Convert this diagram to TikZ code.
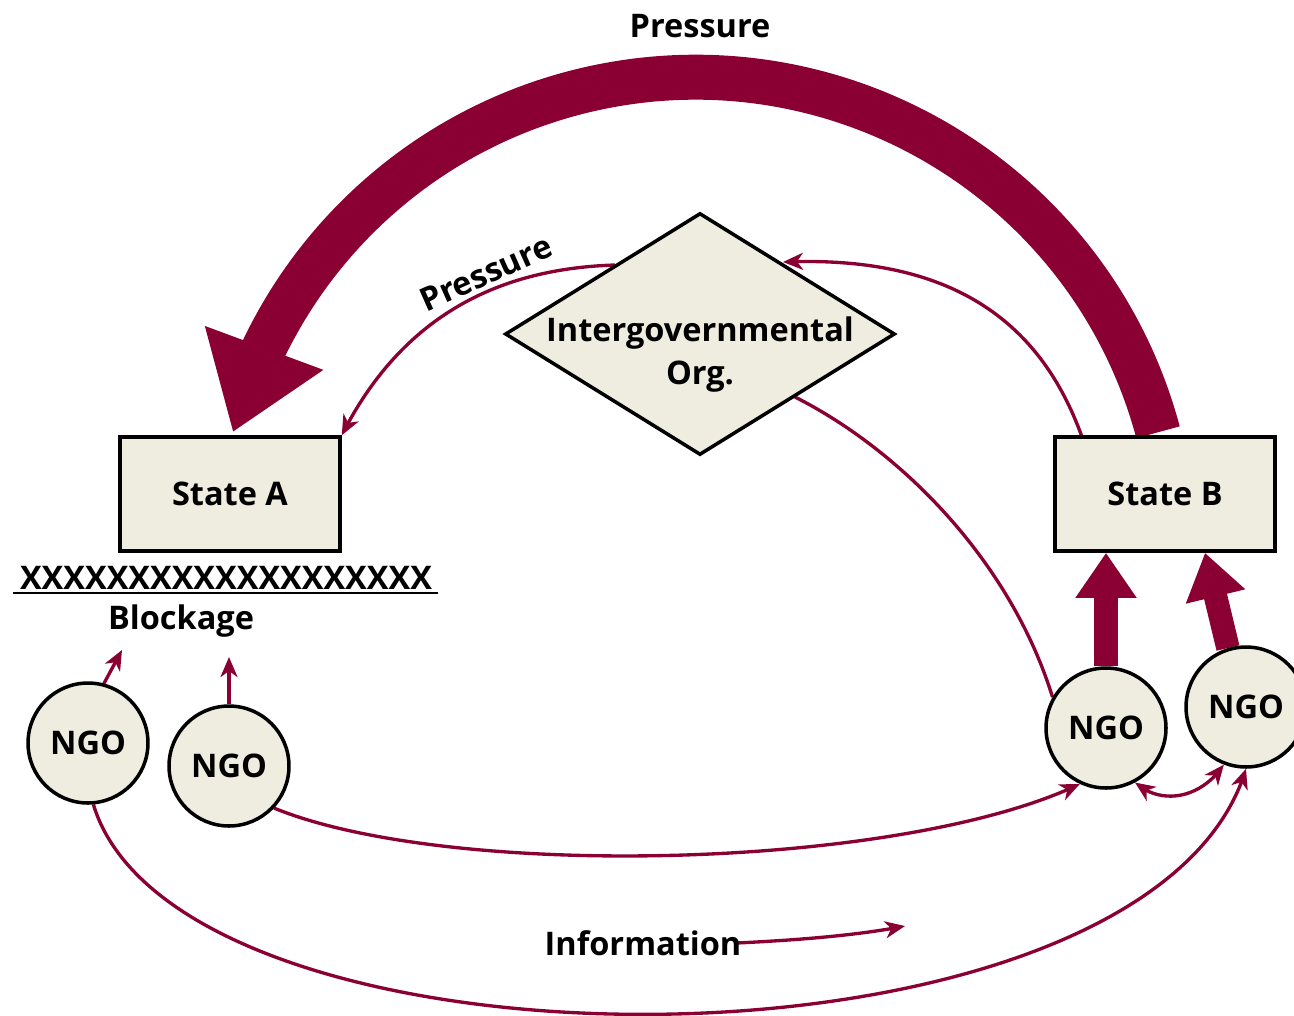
\documentclass[tikz,border=0pt]{standalone}
\usepackage{fontspec}
\setsansfont{Open Sans}
\usetikzlibrary{shapes.geometric,arrows.meta,bending,calc,backgrounds}
\definecolor{pressred}{HTML}{8B0032}
\definecolor{paper}{HTML}{EEEDDF}

\begin{document}
\begin{tikzpicture}[x=0.02cm, y=-0.02cm, font=\sffamily\bfseries\fontsize{18.5}{22}\selectfont,
  >={Stealth[length=0.4cm,width=0.34cm,inset=0.12cm]}]
\tikzstyle{statebox} = [draw, line width=2pt, fill=paper, minimum width=4.4cm, minimum height=2.28cm]
\tikzstyle{ngo} = [draw, circle, line width=2pt, fill=paper, minimum size=2.4cm, inner sep=0pt]
\tikzstyle{igo} = [draw, diamond, line width=2pt, fill=paper, minimum width=7.8cm, minimum height=4.84cm, inner sep=0pt]
\tikzstyle{flow} = [draw=pressred, line width=1.9pt]
\tikzstyle{push} = [draw=pressred, line width=0.47cm, -{Triangle[length=0.9cm,width=1.16cm]}]
\tikzstyle{bigpush} = [draw=pressred, line width=0.9cm, -{Triangle[length=1.8cm,width=2.4cm]}]

\useasboundingbox (0,0) rectangle (1294,1015);

    % states, organisation and the NGOs
    \node [statebox] (stateA) at (230,494) {State A};
    \node [statebox] (stateB) at (1165,494) {State B};
    \node [igo] (igo) at (700,334) {};
    \node [align=center] at (700,355) {Intergovernmental\\[2.5pt]Org.};
    \node [ngo] (ngoA) at (88,743) {NGO};
    \node [ngo] (ngoB) at (229,766) {NGO};
    \node [ngo] (ngoC) at (1106,728) {NGO};
    \node [ngo] (ngoD) at (1246,707) {NGO};

    % labels
    \node (toplabel) at (700,26) {Pressure};
    \node [rotate=24] (sidelabel) at (486,273) {Pressure};
    \node (xrow) at (226,578) {XXXXXXXXXXXXXXXXXXX};
    \draw [line width=1.3pt] (13,593) -- (438,593);
    \node (blockage) at (181,621) {Blockage};
    \node [inner sep=0pt] (info) at (643,943) {Information};
    \coordinate (infoend) at (905,926);
    \coordinate (blockA) at (122,650);
    \coordinate (blockB) at (229,657);

    % connectors, under the boxes
    \begin{scope}[on background layer]
    \draw [bigpush] ($(stateB.north)+(-7,-3)$) arc[start angle=15, end angle=165, radius=9.58cm];
    \draw [push] (ngoC.north) -- (ngoC.north |- stateB.south);
    \draw [push] (ngoD.107) -- ($(stateB.south)+(40,0)$);
    \draw [flow,->] (615,265) .. controls (520,268) and (410,300) .. (stateA.north east);
    \draw [flow,->] (1082,437) .. controls (1040,320) and (950,255) .. (783,262);
    \draw [flow] (795,397) .. controls (900,450) and (1010,560) .. (ngoC.150);
    \draw [flow,->] (ngoA.75) -- (blockA);
    \draw [flow,->] (ngoB.north) -- (blockB);
    \draw [flow,->] (ngoB.317) .. controls (450,880) and (900,870) .. (ngoC.245);
    \draw [flow,->] (ngoA.275) .. controls (180,1090) and (1150,1090) .. (ngoD.south);
    \draw [flow,<->] (ngoC.298) .. controls (1160,805) and (1200,800) .. (ngoD.249);
    \draw [flow,->] ([xshift=-3pt]info.east) .. controls (800,940) and (860,935) .. (infoend);
    \end{scope}

\end{tikzpicture}
\end{document}
